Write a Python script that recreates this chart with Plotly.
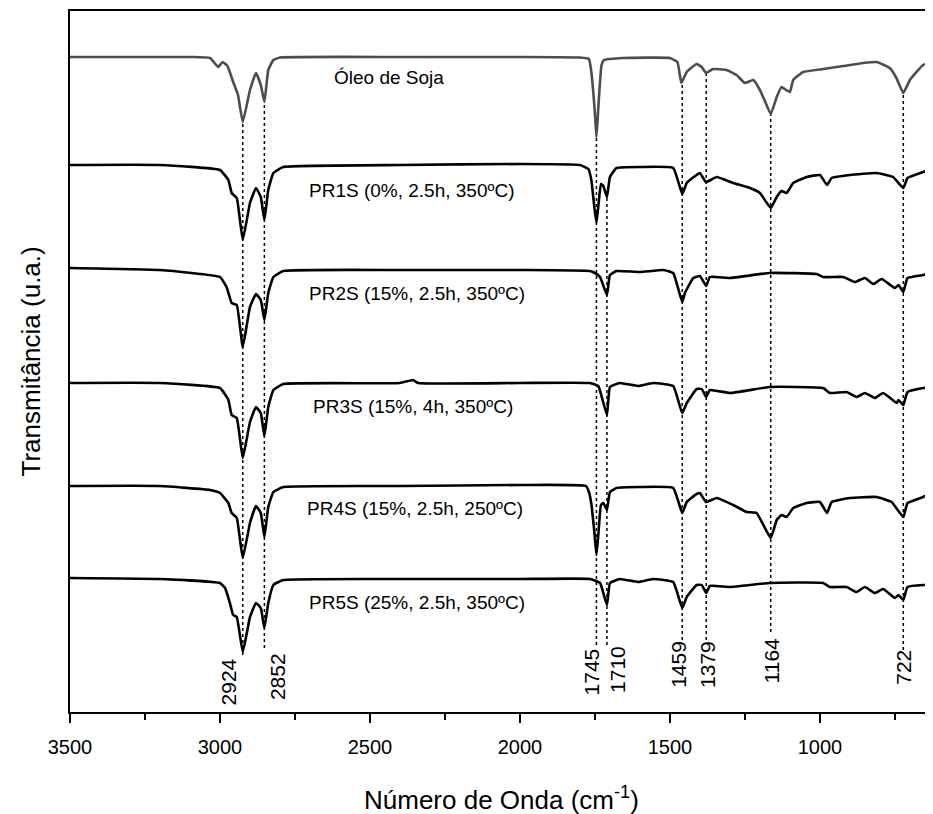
import plotly.graph_objects as go

# ---------------- data (arbitrary units) ----------------
oleo_wn = [3500, 3100, 3033, 3006, 2991, 2975, 2956, 2940, 2924, 2900, 2880, 2864, 2852, 2839, 2822, 2800,
           2400, 2000, 1800, 1770, 1762, 1755, 1750, 1745, 1740, 1735, 1728, 1720, 1700, 1657, 1500, 1475,
           1462, 1444, 1411, 1394, 1380, 1356, 1311, 1278, 1250, 1222, 1200, 1185, 1164, 1144, 1128, 1117,
           1100, 1089, 1056, 989, 922, 856, 811, 767, 745, 722, 700, 656, 623]
oleo_t = [655, 655, 654, 645, 650, 646, 630, 617, 590, 622, 639, 627, 610, 642, 652, 654.5,
          655, 655, 654.5, 653, 640, 618, 598, 575, 598, 622, 647, 652, 653, 654, 654, 650,
          629, 640, 648, 645, 639, 643, 642, 637, 629, 632, 622, 612, 598, 615, 625, 623,
          620, 632, 640, 643, 646, 649, 650, 644, 634, 619, 632, 647, 650]

pr1s_wn = [3500, 3200, 3000, 2972, 2961, 2944, 2924, 2900, 2880, 2864, 2852, 2839, 2822, 2789, 2400, 2000,
           1800, 1772, 1762, 1752, 1745, 1738, 1730, 1722, 1710, 1700, 1678, 1600, 1489, 1459, 1444, 1411,
           1400, 1380, 1344, 1289, 1233, 1200, 1164, 1144, 1128, 1111, 1089, 1044, 1000, 976, 961, 900,
           811, 756, 722, 708, 656, 623]
pr1s_t = [547, 547, 542, 532, 519, 514, 472, 509, 524, 515, 492, 522, 539, 545, 547, 548,
          547, 543, 532, 505, 489, 508, 528, 526, 515, 535, 544, 545, 544, 518, 529, 537,
          539, 530, 535, 529, 524, 519, 504, 515, 521, 519, 529, 535, 537, 527, 534, 537,
          539, 535, 524, 534, 540, 543]

pr2s_wn = [3500, 3200, 3000, 2978, 2961, 2944, 2924, 2900, 2880, 2864, 2852, 2839, 2822, 2789, 2400, 2000,
           1767, 1750, 1733, 1710, 1700, 1678, 1600, 1522, 1489, 1459, 1450, 1422, 1400, 1379, 1367, 1300,
           1167, 1011, 989, 922, 883, 850, 822, 794, 750, 738, 722, 708, 656, 623]
pr2s_t = [444, 442, 435, 425, 409, 407, 365, 405, 418, 412, 392, 419, 435, 441, 442, 442,
          441, 439, 435, 417, 437, 441, 440, 442, 439, 410, 419, 434, 436, 426, 435, 434,
          439, 438, 435, 435, 430, 434, 428, 433, 424, 427, 420, 434, 437, 439]

pr3s_wn = [3500, 3200, 3000, 2972, 2961, 2944, 2924, 2900, 2880, 2864, 2852, 2839, 2822, 2789, 2400, 2357,
           2340, 2000, 1767, 1739, 1710, 1700, 1667, 1606, 1556, 1489, 1459, 1444, 1411, 1394, 1379, 1367,
           1300, 1167, 989, 967, 911, 878, 850, 817, 789, 744, 738, 722, 708, 656, 623]
pr3s_t = [329, 329, 324, 312, 297, 294, 254, 290, 305, 299, 276, 305, 322, 328, 329, 332,
          329, 329, 329, 326, 297, 325, 329, 326, 329, 326, 299, 309, 323, 323, 315, 322,
          319, 325, 324, 319, 320, 315, 319, 314, 319, 309, 312, 307, 320, 324, 325]

pr4s_wn = [3500, 3200, 3033, 3000, 2972, 2961, 2944, 2924, 2900, 2880, 2864, 2852, 2839, 2822, 2789, 2400,
           2000, 1780, 1770, 1762, 1752, 1745, 1738, 1730, 1722, 1710, 1700, 1678, 1600, 1489, 1459, 1444,
           1411, 1400, 1380, 1344, 1289, 1244, 1211, 1164, 1144, 1128, 1111, 1089, 1044, 1000, 976, 961,
           900, 811, 761, 722, 708, 656, 623]
pr4s_t = [226, 226, 222, 219, 209, 199, 194, 154, 189, 206, 199, 175, 205, 220, 225, 226,
          227, 226, 220, 208, 180, 157, 180, 207, 209, 202, 220, 224, 225, 224, 199, 210,
          218, 219, 210, 214, 207, 200, 199, 174, 192, 197, 195, 204, 209, 210, 199, 210,
          214, 215, 210, 195, 209, 215, 220]

pr5s_wn = [3500, 3200, 3000, 2983, 2967, 2956, 2944, 2924, 2900, 2880, 2864, 2852, 2839, 2822, 2789, 2400,
           2000, 1767, 1733, 1710, 1700, 1667, 1606, 1556, 1489, 1459, 1444, 1411, 1394, 1379, 1367, 1300,
           1167, 989, 967, 911, 878, 850, 817, 789, 750, 738, 722, 708, 656, 623]
pr5s_t = [134, 133, 129, 124, 109, 97, 95, 60, 95, 109, 104, 84, 109, 127, 132, 133,
          133, 133, 129, 107, 129, 133, 130, 133, 130, 104, 115, 127, 127, 119, 126, 125,
          129, 129, 125, 125, 120, 125, 119, 123, 114, 117, 112, 125, 127, 127]

spectrum_names = ["Óleo de Soja", "PR1S (0%, 2.5h, 350ºC)", "PR2S (15%, 2.5h, 350ºC)",
                  "PR3S (15%, 4h, 350ºC)", "PR4S (15%, 2.5h, 250ºC)", "PR5S (25%, 2.5h, 350ºC)"]
label_wn = [2625, 2710, 2710, 2695, 2715, 2710]
label_t = [635, 522, 419, 306, 204, 110]

# marked bands: wavenumber, top of dotted line, bottom of dotted line, label base
band_wn = [2924, 2852, 1745, 1710, 1459, 1379, 1164, 722]
band_top = [590, 610, 575, 515, 629, 639, 599, 619]
band_bottom = [57, 64, 67, 67, 72, 72, 80, 62]
band_label_x = [2970, 2808, 1760, 1675, 1472, 1375, 1160, 722]
band_label_base = [5, 10, 15, 17, 22, 22, 27, 25]

x_ticks = [3500, 3000, 2500, 2000, 1500, 1000]
x_minor = [3250, 2750, 2250, 1750, 1250, 750]
x_range = [3500, 623]
y_range = [0, 701]

# ---------------- figure ----------------
FONT = "Arial, Liberation Sans, Helvetica, sans-serif"
fig = go.Figure()

series = [(oleo_wn, oleo_t, "#4d4d4d"), (pr1s_wn, pr1s_t, "black"), (pr2s_wn, pr2s_t, "black"),
          (pr3s_wn, pr3s_t, "black"), (pr4s_wn, pr4s_t, "black"), (pr5s_wn, pr5s_t, "black")]
for (wn, t, col), name in zip(series, spectrum_names):
    fig.add_trace(go.Scatter(x=wn, y=t, mode="lines", name=name,
                             line=dict(color=col, width=2.6, shape="spline", smoothing=0.35),
                             showlegend=False))

for wn, top, bot in zip(band_wn, band_top, band_bottom):
    fig.add_shape(type="line", xref="x", yref="y", x0=wn, x1=wn, y0=bot, y1=top,
                  line=dict(color="black", width=1.5, dash="dot"), layer="below")

for lx, base, wn in zip(band_label_x, band_label_base, band_wn):
    fig.add_annotation(x=lx, y=base, xref="x", yref="y", text=str(wn), textangle=-90,
                       showarrow=False, xanchor="center", yanchor="bottom",
                       font=dict(family=FONT, size=21, color="black"))

for name, lx, ly in zip(spectrum_names, label_wn, label_t):
    fig.add_annotation(x=lx, y=ly, xref="x", yref="y", text=name, showarrow=False,
                       xanchor="left", yanchor="middle",
                       font=dict(family=FONT, size=19, color="black"))

fig.add_annotation(x=0.5, y=0, xref="paper", yref="paper", yshift=-86,
                   text="Número de Onda (cm<sup>-1</sup>)", showarrow=False,
                   xanchor="center", yanchor="middle", font=dict(family=FONT, size=26, color="black"))
fig.add_annotation(x=0, y=0.5, xref="paper", yref="paper", xshift=-40,
                   text="Transmitância (u.a.)", textangle=-90, showarrow=False,
                   xanchor="center", yanchor="middle", font=dict(family=FONT, size=26, color="black"))

fig.update_xaxes(range=x_range, tickvals=x_ticks, ticktext=[str(v) for v in x_ticks],
                 ticks="outside", ticklen=9, tickwidth=1.5, tickcolor="black",
                 minor=dict(ticks="outside", ticklen=6, tickwidth=1.5, tickcolor="black",
                            tickvals=x_minor),
                 showline=True, linecolor="black", linewidth=1.5, mirror=True,
                 showgrid=False, zeroline=False, ticklabelstandoff=7,
                 tickfont=dict(family=FONT, size=20, color="black"))
fig.update_yaxes(range=y_range, showticklabels=False, ticks="", showline=True,
                 linecolor="black", linewidth=1.5, showgrid=False, zeroline=False)

# the page body has an 8px margin, so the figure is sized/offset to compensate
fig.update_layout(width=925, height=806, margin=dict(l=62, r=0, t=3, b=102),
                  plot_bgcolor="white", paper_bgcolor="white",
                  font=dict(family=FONT, color="black"))

fig.write_html("out.html")
